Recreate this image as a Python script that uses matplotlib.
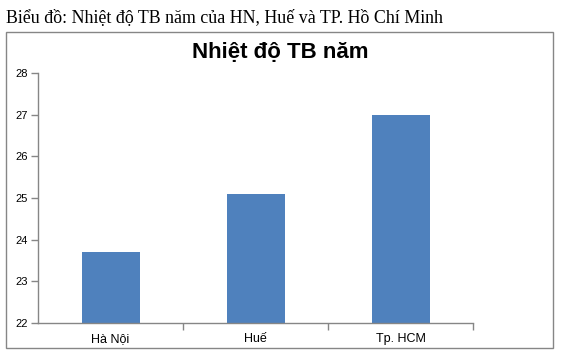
import matplotlib
matplotlib.use("Agg")
import matplotlib.pyplot as plt
from matplotlib.patches import Rectangle

categories = ["Hà Nội", "Huế", "Tp. HCM"]
values = [23.7, 25.1, 27.0]
yticks = [22, 23, 24, 25, 26, 27, 28]

W, H = 572, 364
fig = plt.figure(figsize=(W / 100, H / 100), dpi=100)

# header text
fig.text(6 / W, 1 - 18 / H, "Biểu đồ: Nhiệt độ TB năm của HN, Huế và TP. Hồ Chí Minh",
         family="Liberation Serif", fontsize=12.9, va="center", ha="left", color="black")

# chart border box
fig.patches.append(Rectangle((6 / W, 1 - 348 / H), (553 - 6) / W, (348 - 32) / H,
                             transform=fig.transFigure, fill=False,
                             edgecolor="#868686", linewidth=1.0))

ax = fig.add_axes([38 / W, 1 - 323 / H, (473 - 38) / W, (323 - 73) / H])
x = range(len(categories))
ax.bar(x, [v - 22 for v in values], bottom=22, width=0.4, color="#4F81BD")
ax.set_xlim(-0.5, len(categories) - 0.5)
ax.set_ylim(22, 28)
ax.set_yticks(yticks)
ax.set_yticklabels([str(t) for t in yticks], family="Liberation Sans", fontsize=8)

ax.set_xticks(list(x))
ax.set_xticklabels(categories, family="Liberation Sans", fontsize=9)
ax.tick_params(axis="x", length=0, pad=7)
ax.set_xticks([i + 0.5 for i in range(0, len(categories))], minor=True)
ax.tick_params(axis="x", which="minor", length=5, color="#868686", width=1)
ax.tick_params(axis="y", length=5, color="#868686", width=1, pad=2)

for s in ["top", "right"]:
    ax.spines[s].set_visible(False)
for s in ["left", "bottom"]:
    ax.spines[s].set_color("#868686")
    ax.spines[s].set_linewidth(1)

fig.text(280 / W, 1 - 53 / H, "Nhiệt độ TB năm", family="Liberation Sans",
         fontweight="bold", fontsize=16, ha="center", va="center")

fig.savefig("out.png", dpi=100, facecolor="white")
